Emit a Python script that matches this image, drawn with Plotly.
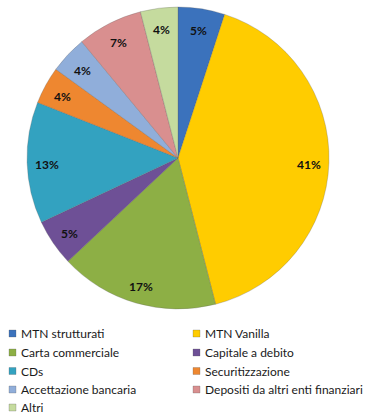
import math
import plotly.graph_objects as go

W, H = 369, 416

categories = [
    "MTN strutturati",
    "MTN Vanilla",
    "Carta commerciale",
    "Capitale a debito",
    "CDs",
    "Securitizzazione",
    "Accettazione bancaria",
    "Depositi da altri enti finanziari",
    "Altri",
]
shares = [5, 41, 17, 5, 13, 4, 4, 7, 4]
colors = [
    "#3B72BC",
    "#FFCC00",
    "#8DAF45",
    "#6E5096",
    "#33A2C0",
    "#EE8730",
    "#90AEDA",
    "#D98F8F",
    "#C5DB9E",
]

# pie centre and radius in pixels
cx, cy, r = 178, 158, 151

fig = go.Figure(
    go.Pie(
        labels=categories,
        values=shares,
        sort=False,
        direction="clockwise",
        rotation=0,
        marker=dict(colors=colors, line=dict(color="rgba(90,90,90,0.45)", width=0.6)),
        textinfo="none",
        domain=dict(x=[(cx - r) / W, (cx + r) / W], y=[1 - (cy + r) / H, 1 - (cy - r) / H]),
        showlegend=False,
        hoverinfo="label+percent",
    )
)

annotations = []

# percentage labels placed near the rim, on each slice's bisector
total = sum(shares)
label_r = 0.87 * r
acc = 0.0
for v in shares:
    mid = (acc + v / 2) / total * 2 * math.pi
    acc += v
    lx = cx + label_r * math.sin(mid)
    ly = cy - label_r * math.cos(mid) + 2
    annotations.append(
        dict(
            text=f"{round(100 * v / total)}%", xref="paper", yref="paper",
            x=lx / W, y=1 - ly / H, xanchor="center", yanchor="middle",
            showarrow=False,
            font=dict(family="Lato", size=12, color="#111111", weight="bold"),
        )
    )

# two-column legend below the pie
row_y = [333.5, 352.5, 371, 389.5, 407.5]
col_marker_x = [9, 193]
col_text_x = [20, 204]
shapes = []
for i, (name, col) in enumerate(zip(categories, colors)):
    row, c = divmod(i, 2)
    y = row_y[row]
    x0 = col_marker_x[c]
    shapes.append(
        dict(
            type="rect", xref="paper", yref="paper",
            x0=x0 / W, x1=(x0 + 7) / W,
            y0=1 - (y + 3.5) / H, y1=1 - (y - 3.5) / H,
            fillcolor=col, line=dict(color="rgba(80,80,80,0.5)", width=0.5),
        )
    )
    annotations.append(
        dict(
            text=name, xref="paper", yref="paper",
            x=col_text_x[c] / W, y=1 - y / H,
            xanchor="left", yanchor="middle", showarrow=False, borderpad=0,
            font=dict(family="Lato", size=12, color="#1a1a1a"),
        )
    )

fig.update_layout(
    width=W, height=H,
    margin=dict(l=0, r=0, t=0, b=0),
    paper_bgcolor="white",
    plot_bgcolor="white",
    shapes=shapes,
    annotations=annotations,
)

fig.write_html("out.html")
